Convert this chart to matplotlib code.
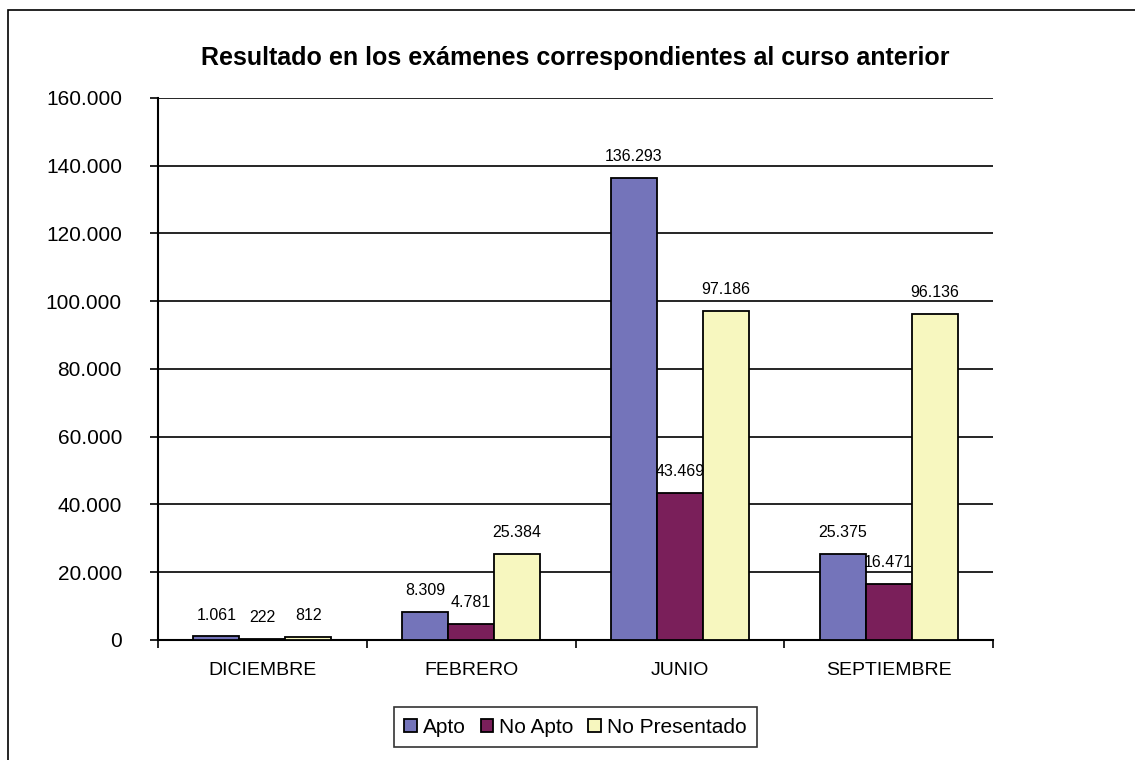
import matplotlib.pyplot as plt
from matplotlib.patches import Rectangle
import numpy as np

# === Data ===
meses = ["DICIEMBRE", "FEBRERO", "JUNIO", "SEPTIEMBRE"]
apto = [1061, 8309, 136293, 25375]
no_apto = [222, 4781, 43469, 16471]
no_presentado = [812, 25384, 97186, 96136]
series = [("Apto", apto, "#7474BA"),
          ("No Apto", no_apto, "#7A1F5A"),
          ("No Presentado", no_presentado, "#F7F7BF")]
y_ticks = list(range(0, 160001, 20000))


def fmt(v):
    return f"{v:,}".replace(",", ".")


plt.rcParams['font.family'] = ['Liberation Sans', 'DejaVu Sans']

fig = plt.figure(figsize=(11.35, 7.6), dpi=100)
ax = fig.add_axes([0.1392, 0.1579, 0.7357, 0.7132])

# outer chart border (right/bottom fall outside the picture)
fig.patches.append(Rectangle((8 / 1135, -0.1), 1.2, 0.1 + (760 - 10) / 760,
                             transform=fig.transFigure, fill=False,
                             edgecolor="black", linewidth=1.2))

x = np.arange(len(meses))
w = 0.22
for i, (name, vals, col) in enumerate(series):
    pos = x + (i - 1) * w
    ax.bar(pos, vals, width=w, color=col, edgecolor="black", linewidth=1.3,
           label=name, zorder=3)
    for p, v in zip(pos, vals):
        ax.annotate(fmt(v), (p, v), xytext=(0, 10), textcoords="offset points",
                    ha="center", va="bottom", fontsize=11.5, zorder=4)

ax.set_xlim(-0.5, 3.5)
ax.set_ylim(0, 160000)
ax.set_yticks(y_ticks)
ax.set_yticklabels([fmt(v) for v in y_ticks], fontsize=15)
ax.yaxis.grid(True, color="black", linewidth=1.2, zorder=0)
ax.tick_params(axis="y", direction="out", length=6, width=1.2, pad=20)

ax.set_xticks(x)
ax.set_xticklabels(meses, fontsize=14)
ax.tick_params(axis="x", length=0, pad=16)
ax.set_xticks(np.arange(-0.5, 4, 1), minor=True)
ax.tick_params(axis="x", which="minor", direction="out", length=6, width=1.2)

for side in ["top", "right"]:
    ax.spines[side].set_visible(False)
ax.spines["left"].set_linewidth(1.5)
ax.spines["bottom"].set_linewidth(1.5)

fig.text(0.507, 0.924, "Resultado en los exámenes correspondientes al curso anterior",
         ha="center", va="center", fontsize=18, fontweight="bold")

leg = fig.legend(loc="center", bbox_to_anchor=(0.507, 0.043), ncol=3,
                 fontsize=15, frameon=True, fancybox=False, edgecolor="black",
                 handlelength=0.6, handleheight=0.6, handletextpad=0.3,
                 columnspacing=0.7, borderpad=0.5)
leg.get_frame().set_linewidth(1.2)

fig.savefig("out.png", dpi=100)
